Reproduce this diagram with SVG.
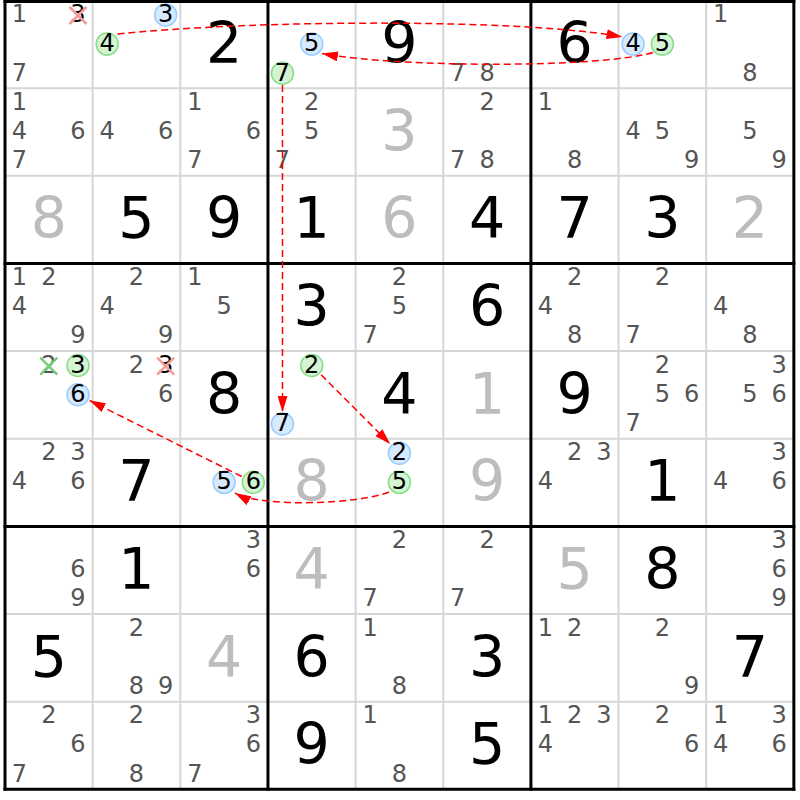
<svg xmlns="http://www.w3.org/2000/svg" width="800" height="800" viewBox="0 0 800 800">
<style>
.thin{stroke:#d6d6d6;stroke-width:2}
.thick{stroke:#000;stroke-width:3}
text{font-family:"DejaVu Sans",Verdana,sans-serif;text-anchor:middle}
.c{font-size:24px;fill:#555}
.k{fill:#000}
.b{font-size:57px}
.g{fill:#000}
.s{fill:#bdbdbd}
.cb{fill:#d6eaff;stroke:#99ccff;stroke-width:1.5}
.cg{fill:#d4f4d4;stroke:#88dd88;stroke-width:1.5}
.xr{stroke:#f39a9a;stroke-width:2.5;fill:none}
.xg{stroke:#77cc77;stroke-width:2.5;fill:none}
.link{fill:none;stroke:#ff0000;stroke-width:1.5;stroke-dasharray:7 4}
</style>
<defs>
<marker id="arr" viewBox="0 0 16 10" refX="16" refY="5" markerWidth="16" markerHeight="10" markerUnits="userSpaceOnUse" orient="auto">
<path d="M0,0 L16,5 L0,10 z" fill="#ff0000"/>
</marker>
</defs>
<rect x="0" y="0" width="800" height="800" fill="#fff"/>
<g id="grid">
<g class="thin">
<line x1="92.65" y1="0.5" x2="92.65" y2="789.35"/><line x1="180.3" y1="0.5" x2="180.3" y2="789.35"/>
<line x1="355.6" y1="0.5" x2="355.6" y2="789.35"/><line x1="443.25" y1="0.5" x2="443.25" y2="789.35"/>
<line x1="618.55" y1="0.5" x2="618.55" y2="789.35"/><line x1="706.2" y1="0.5" x2="706.2" y2="789.35"/>
<line x1="5" y1="88.15" x2="793.85" y2="88.15"/><line x1="5" y1="175.8" x2="793.85" y2="175.8"/>
<line x1="5" y1="351.1" x2="793.85" y2="351.1"/><line x1="5" y1="438.75" x2="793.85" y2="438.75"/>
<line x1="5" y1="614.05" x2="793.85" y2="614.05"/><line x1="5" y1="701.7" x2="793.85" y2="701.7"/>
</g>
<g class="thick">
<line x1="5" y1="0" x2="5" y2="790.8"/><line x1="267.95" y1="0" x2="267.95" y2="790.8"/>
<line x1="530.9" y1="0" x2="530.9" y2="790.8"/><line x1="793.85" y1="0" x2="793.85" y2="790.8"/>
<line x1="3.5" y1="1.5" x2="795.3" y2="1.5"/><line x1="3.5" y1="263.45" x2="795.3" y2="263.45"/>
<line x1="3.5" y1="526.4" x2="795.3" y2="526.4"/><line x1="3.5" y1="789.35" x2="795.3" y2="789.35"/>
</g>
</g>
<!-- row 0 -->
<g id="r0c0" transform="translate(5,0.5)"><text class="c" x="14.5" y="21.5">1</text><text class="c k" x="73" y="21.5">3</text><path class="xr" d="M64.5,6.5 L81.5,23.5 M81.5,6.5 L64.5,23.5"/><text class="c" x="14.5" y="80">7</text></g>
<g id="r0c1" transform="translate(92.65,0.5)"><circle class="cb" cx="73" cy="14.4" r="11"/><text class="c k" x="73" y="21.5">3</text><circle class="cg" cx="14.5" cy="43.6" r="11"/><text class="c k" x="14.5" y="50.7">4</text></g>
<g id="r0c2" transform="translate(180.3,0.5)"><text class="b g" x="43.8" y="62.5">2</text></g>
<g id="r0c3" transform="translate(267.95,0.5)"><circle class="cb" cx="43.8" cy="43.6" r="11"/><text class="c k" x="43.8" y="50.7">5</text><circle class="cg" cx="14.5" cy="72.8" r="11"/><text class="c k" x="14.5" y="80">7</text></g>
<g id="r0c4" transform="translate(355.6,0.5)"><text class="b g" x="43.8" y="62.5">9</text></g>
<g id="r0c5" transform="translate(443.25,0.5)"><text class="c" x="14.5" y="80">7</text><text class="c" x="43.8" y="80">8</text></g>
<g id="r0c6" transform="translate(530.9,0.5)"><text class="b g" x="43.8" y="62.5">6</text></g>
<g id="r0c7" transform="translate(618.55,0.5)"><circle class="cb" cx="14.5" cy="43.6" r="11"/><text class="c k" x="14.5" y="50.7">4</text><circle class="cg" cx="43.8" cy="43.6" r="11"/><text class="c k" x="43.8" y="50.7">5</text></g>
<g id="r0c8" transform="translate(706.2,0.5)"><text class="c" x="14.5" y="21.5">1</text><text class="c" x="43.8" y="80">8</text></g>
<!-- row 1 -->
<g id="r1c0" transform="translate(5,88.15)"><text class="c" x="14.5" y="21.5">1</text><text class="c" x="14.5" y="50.7">4</text><text class="c" x="73" y="50.7">6</text><text class="c" x="14.5" y="80">7</text></g>
<g id="r1c1" transform="translate(92.65,88.15)"><text class="c" x="14.5" y="50.7">4</text><text class="c" x="73" y="50.7">6</text></g>
<g id="r1c2" transform="translate(180.3,88.15)"><text class="c" x="14.5" y="21.5">1</text><text class="c" x="73" y="50.7">6</text><text class="c" x="14.5" y="80">7</text></g>
<g id="r1c3" transform="translate(267.95,88.15)"><text class="c" x="43.8" y="21.5">2</text><text class="c" x="43.8" y="50.7">5</text><text class="c" x="14.5" y="80">7</text></g>
<g id="r1c4" transform="translate(355.6,88.15)"><text class="b s" x="43.8" y="62.5">3</text></g>
<g id="r1c5" transform="translate(443.25,88.15)"><text class="c" x="43.8" y="21.5">2</text><text class="c" x="14.5" y="80">7</text><text class="c" x="43.8" y="80">8</text></g>
<g id="r1c6" transform="translate(530.9,88.15)"><text class="c" x="14.5" y="21.5">1</text><text class="c" x="43.8" y="80">8</text></g>
<g id="r1c7" transform="translate(618.55,88.15)"><text class="c" x="14.5" y="50.7">4</text><text class="c" x="43.8" y="50.7">5</text><text class="c" x="73" y="80">9</text></g>
<g id="r1c8" transform="translate(706.2,88.15)"><text class="c" x="43.8" y="50.7">5</text><text class="c" x="73" y="80">9</text></g>
<!-- row 2 -->
<g id="r2c0" transform="translate(5,175.8)"><text class="b s" x="43.8" y="62.5">8</text></g>
<g id="r2c1" transform="translate(92.65,175.8)"><text class="b g" x="43.8" y="62.5">5</text></g>
<g id="r2c2" transform="translate(180.3,175.8)"><text class="b g" x="43.8" y="62.5">9</text></g>
<g id="r2c3" transform="translate(267.95,175.8)"><text class="b g" x="43.8" y="62.5">1</text></g>
<g id="r2c4" transform="translate(355.6,175.8)"><text class="b s" x="43.8" y="62.5">6</text></g>
<g id="r2c5" transform="translate(443.25,175.8)"><text class="b g" x="43.8" y="62.5">4</text></g>
<g id="r2c6" transform="translate(530.9,175.8)"><text class="b g" x="43.8" y="62.5">7</text></g>
<g id="r2c7" transform="translate(618.55,175.8)"><text class="b g" x="43.8" y="62.5">3</text></g>
<g id="r2c8" transform="translate(706.2,175.8)"><text class="b s" x="43.8" y="62.5">2</text></g>
<!-- row 3 -->
<g id="r3c0" transform="translate(5,263.45)"><text class="c" x="14.5" y="21.5">1</text><text class="c" x="43.8" y="21.5">2</text><text class="c" x="14.5" y="50.7">4</text><text class="c" x="73" y="80">9</text></g>
<g id="r3c1" transform="translate(92.65,263.45)"><text class="c" x="43.8" y="21.5">2</text><text class="c" x="14.5" y="50.7">4</text><text class="c" x="73" y="80">9</text></g>
<g id="r3c2" transform="translate(180.3,263.45)"><text class="c" x="14.5" y="21.5">1</text><text class="c" x="43.8" y="50.7">5</text></g>
<g id="r3c3" transform="translate(267.95,263.45)"><text class="b g" x="43.8" y="62.5">3</text></g>
<g id="r3c4" transform="translate(355.6,263.45)"><text class="c" x="43.8" y="21.5">2</text><text class="c" x="43.8" y="50.7">5</text><text class="c" x="14.5" y="80">7</text></g>
<g id="r3c5" transform="translate(443.25,263.45)"><text class="b g" x="43.8" y="62.5">6</text></g>
<g id="r3c6" transform="translate(530.9,263.45)"><text class="c" x="43.8" y="21.5">2</text><text class="c" x="14.5" y="50.7">4</text><text class="c" x="43.8" y="80">8</text></g>
<g id="r3c7" transform="translate(618.55,263.45)"><text class="c" x="43.8" y="21.5">2</text><text class="c" x="14.5" y="80">7</text></g>
<g id="r3c8" transform="translate(706.2,263.45)"><text class="c" x="14.5" y="50.7">4</text><text class="c" x="43.8" y="80">8</text></g>
<!-- row 4 -->
<g id="r4c0" transform="translate(5,351.1)"><text class="c" x="43.8" y="21.5">2</text><path class="xg" d="M35.3,6.5 L52.3,23.5 M52.3,6.5 L35.3,23.5"/><circle class="cg" cx="73" cy="14.4" r="11"/><text class="c k" x="73" y="21.5">3</text><circle class="cb" cx="73" cy="43.6" r="11"/><text class="c k" x="73" y="50.7">6</text></g>
<g id="r4c1" transform="translate(92.65,351.1)"><text class="c" x="43.8" y="21.5">2</text><text class="c k" x="73" y="21.5">3</text><path class="xr" d="M64.5,6.5 L81.5,23.5 M81.5,6.5 L64.5,23.5"/><text class="c" x="73" y="50.7">6</text></g>
<g id="r4c2" transform="translate(180.3,351.1)"><text class="b g" x="43.8" y="62.5">8</text></g>
<g id="r4c3" transform="translate(267.95,351.1)"><circle class="cg" cx="43.8" cy="14.4" r="11"/><text class="c k" x="43.8" y="21.5">2</text><circle class="cb" cx="14.5" cy="72.8" r="11"/><text class="c k" x="14.5" y="80">7</text></g>
<g id="r4c4" transform="translate(355.6,351.1)"><text class="b g" x="43.8" y="62.5">4</text></g>
<g id="r4c5" transform="translate(443.25,351.1)"><text class="b s" x="43.8" y="62.5">1</text></g>
<g id="r4c6" transform="translate(530.9,351.1)"><text class="b g" x="43.8" y="62.5">9</text></g>
<g id="r4c7" transform="translate(618.55,351.1)"><text class="c" x="43.8" y="21.5">2</text><text class="c" x="43.8" y="50.7">5</text><text class="c" x="73" y="50.7">6</text><text class="c" x="14.5" y="80">7</text></g>
<g id="r4c8" transform="translate(706.2,351.1)"><text class="c" x="73" y="21.5">3</text><text class="c" x="43.8" y="50.7">5</text><text class="c" x="73" y="50.7">6</text></g>
<!-- row 5 -->
<g id="r5c0" transform="translate(5,438.75)"><text class="c" x="43.8" y="21.5">2</text><text class="c" x="73" y="21.5">3</text><text class="c" x="14.5" y="50.7">4</text><text class="c" x="73" y="50.7">6</text></g>
<g id="r5c1" transform="translate(92.65,438.75)"><text class="b g" x="43.8" y="62.5">7</text></g>
<g id="r5c2" transform="translate(180.3,438.75)"><circle class="cb" cx="43.8" cy="43.6" r="11"/><text class="c k" x="43.8" y="50.7">5</text><circle class="cg" cx="73" cy="43.6" r="11"/><text class="c k" x="73" y="50.7">6</text></g>
<g id="r5c3" transform="translate(267.95,438.75)"><text class="b s" x="43.8" y="62.5">8</text></g>
<g id="r5c4" transform="translate(355.6,438.75)"><circle class="cb" cx="43.8" cy="14.4" r="11"/><text class="c k" x="43.8" y="21.5">2</text><circle class="cg" cx="43.8" cy="43.6" r="11"/><text class="c k" x="43.8" y="50.7">5</text></g>
<g id="r5c5" transform="translate(443.25,438.75)"><text class="b s" x="43.8" y="62.5">9</text></g>
<g id="r5c6" transform="translate(530.9,438.75)"><text class="c" x="43.8" y="21.5">2</text><text class="c" x="73" y="21.5">3</text><text class="c" x="14.5" y="50.7">4</text></g>
<g id="r5c7" transform="translate(618.55,438.75)"><text class="b g" x="43.8" y="62.5">1</text></g>
<g id="r5c8" transform="translate(706.2,438.75)"><text class="c" x="73" y="21.5">3</text><text class="c" x="14.5" y="50.7">4</text><text class="c" x="73" y="50.7">6</text></g>
<!-- row 6 -->
<g id="r6c0" transform="translate(5,526.4)"><text class="c" x="73" y="50.7">6</text><text class="c" x="73" y="80">9</text></g>
<g id="r6c1" transform="translate(92.65,526.4)"><text class="b g" x="43.8" y="62.5">1</text></g>
<g id="r6c2" transform="translate(180.3,526.4)"><text class="c" x="73" y="21.5">3</text><text class="c" x="73" y="50.7">6</text></g>
<g id="r6c3" transform="translate(267.95,526.4)"><text class="b s" x="43.8" y="62.5">4</text></g>
<g id="r6c4" transform="translate(355.6,526.4)"><text class="c" x="43.8" y="21.5">2</text><text class="c" x="14.5" y="80">7</text></g>
<g id="r6c5" transform="translate(443.25,526.4)"><text class="c" x="43.8" y="21.5">2</text><text class="c" x="14.5" y="80">7</text></g>
<g id="r6c6" transform="translate(530.9,526.4)"><text class="b s" x="43.8" y="62.5">5</text></g>
<g id="r6c7" transform="translate(618.55,526.4)"><text class="b g" x="43.8" y="62.5">8</text></g>
<g id="r6c8" transform="translate(706.2,526.4)"><text class="c" x="73" y="21.5">3</text><text class="c" x="73" y="50.7">6</text><text class="c" x="73" y="80">9</text></g>
<!-- row 7 -->
<g id="r7c0" transform="translate(5,614.05)"><text class="b g" x="43.8" y="62.5">5</text></g>
<g id="r7c1" transform="translate(92.65,614.05)"><text class="c" x="43.8" y="21.5">2</text><text class="c" x="43.8" y="80">8</text><text class="c" x="73" y="80">9</text></g>
<g id="r7c2" transform="translate(180.3,614.05)"><text class="b s" x="43.8" y="62.5">4</text></g>
<g id="r7c3" transform="translate(267.95,614.05)"><text class="b g" x="43.8" y="62.5">6</text></g>
<g id="r7c4" transform="translate(355.6,614.05)"><text class="c" x="14.5" y="21.5">1</text><text class="c" x="43.8" y="80">8</text></g>
<g id="r7c5" transform="translate(443.25,614.05)"><text class="b g" x="43.8" y="62.5">3</text></g>
<g id="r7c6" transform="translate(530.9,614.05)"><text class="c" x="14.5" y="21.5">1</text><text class="c" x="43.8" y="21.5">2</text></g>
<g id="r7c7" transform="translate(618.55,614.05)"><text class="c" x="43.8" y="21.5">2</text><text class="c" x="73" y="80">9</text></g>
<g id="r7c8" transform="translate(706.2,614.05)"><text class="b g" x="43.8" y="62.5">7</text></g>
<!-- row 8 -->
<g id="r8c0" transform="translate(5,701.7)"><text class="c" x="43.8" y="21.5">2</text><text class="c" x="73" y="50.7">6</text><text class="c" x="14.5" y="80">7</text></g>
<g id="r8c1" transform="translate(92.65,701.7)"><text class="c" x="43.8" y="21.5">2</text><text class="c" x="43.8" y="80">8</text></g>
<g id="r8c2" transform="translate(180.3,701.7)"><text class="c" x="73" y="21.5">3</text><text class="c" x="73" y="50.7">6</text><text class="c" x="14.5" y="80">7</text></g>
<g id="r8c3" transform="translate(267.95,701.7)"><text class="b g" x="43.8" y="62.5">9</text></g>
<g id="r8c4" transform="translate(355.6,701.7)"><text class="c" x="14.5" y="21.5">1</text><text class="c" x="43.8" y="80">8</text></g>
<g id="r8c5" transform="translate(443.25,701.7)"><text class="b g" x="43.8" y="62.5">5</text></g>
<g id="r8c6" transform="translate(530.9,701.7)"><text class="c" x="14.5" y="21.5">1</text><text class="c" x="43.8" y="21.5">2</text><text class="c" x="73" y="21.5">3</text><text class="c" x="14.5" y="50.7">4</text></g>
<g id="r8c7" transform="translate(618.55,701.7)"><text class="c" x="43.8" y="21.5">2</text><text class="c" x="73" y="50.7">6</text></g>
<g id="r8c8" transform="translate(706.2,701.7)"><text class="c" x="14.5" y="21.5">1</text><text class="c" x="73" y="21.5">3</text><text class="c" x="14.5" y="50.7">4</text><text class="c" x="73" y="50.7">6</text></g>
<!-- connectors -->
<g id="connectors">
<path class="link" marker-end="url(#arr)" d="M117.5,34 C250,20 520,18 622.5,37"/>
<path class="link" marker-end="url(#arr)" d="M653,52.5 C600,68 400,68 322,53.5"/>
<path class="link" marker-end="url(#arr)" d="M282.5,85 L282.5,412"/>
<path class="link" marker-end="url(#arr)" d="M321,374.7 L390.2,444"/>
<path class="link" marker-end="url(#arr)" d="M389,492 C360,504 262,508 235,493"/>
<path class="link" marker-end="url(#arr)" d="M241.7,476.5 L89.6,400.5"/>
</g>
</svg>
